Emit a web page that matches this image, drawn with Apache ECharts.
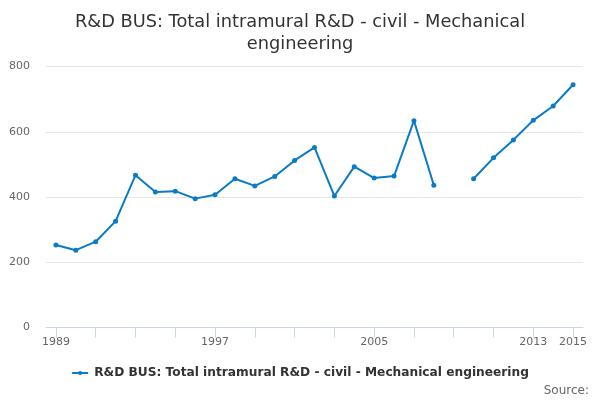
<!DOCTYPE html>
<html><head><meta charset="utf-8">
<script src="https://cdn.jsdelivr.net/npm/echarts@6/dist/echarts.min.js"></script>
<style>html,body{margin:0;padding:0;background:#fff}#c{width:600px;height:400px}</style>
</head><body><div id="c"></div>
<script>
var years = ['1989','1990','1991','1992','1993','1994','1995','1996','1997','1998','1999','2000','2001','2002','2003','2004','2005','2006','2007','2008','2009','2010','2011','2012','2013','2014','2015'];
var values = [253,237,263,326,467,415,418,395,407,456,434,463,512,552,403,493,458,464,634,436,null,456,520,575,635,679,744];
var yTicks = [0,200,400,600,800];
var seriesName = 'R&D BUS: Total intramural R&D - civil - Mechanical engineering';
var labelYears = ['1989','1997','2005','2013','2015'];

var chart = echarts.init(document.getElementById('c'));
chart.setOption({
  animation: false,
  title: {
    text: 'R&D BUS: Total intramural R&D - civil - Mechanical\nengineering',
    left: 'center', top: 6,
    textStyle: {fontFamily: 'DejaVu Sans', fontSize: 17.8, fontWeight: 'normal', color: '#333333', lineHeight: 22}
  },
  legend: {
    data: [seriesName], bottom: 16, left: 'center', itemWidth: 16, itemHeight: 5, itemGap: 5,
    textStyle: {fontFamily: 'DejaVu Sans', fontSize: 12.2, fontWeight: 'bold', color: '#333333', padding: [0,0,0,1]}
  },
  graphic: [{type: 'text', right: 11, bottom: 3, style: {text: 'Source:', fontFamily: 'DejaVu Sans', fontSize: 12, fill: '#666666'}}],
  grid: {left: 46, right: 17, top: 66.5, bottom: 72.5},
  xAxis: {
    type: 'category', data: years, boundaryGap: true,
    axisLine: {lineStyle: {color: '#ccd6eb'}},
    axisTick: {show: true, alignWithLabel: true, length: 10, interval: 1, lineStyle: {color: '#ccd6eb'}},
    axisLabel: {
      interval: function(i, v){ return labelYears.indexOf(v) >= 0; },
      fontFamily: 'DejaVu Sans', fontSize: 11, color: '#666666', margin: 9
    }
  },
  yAxis: {
    type: 'value', min: yTicks[0], max: yTicks[yTicks.length-1], interval: 200,
    axisLine: {show: false}, axisTick: {show: false},
    splitLine: {lineStyle: {color: '#e6e6e6'}},
    axisLabel: {fontFamily: 'DejaVu Sans', fontSize: 11, color: '#666666', margin: 16}
  },
  series: [{
    name: seriesName, type: 'line', data: values, connectNulls: false,
    symbol: 'circle', symbolSize: 5, showSymbol: true,
    lineStyle: {color: '#0a7bc4', width: 2},
    itemStyle: {color: '#0a7bc4'}
  }]
});
</script></body></html>
